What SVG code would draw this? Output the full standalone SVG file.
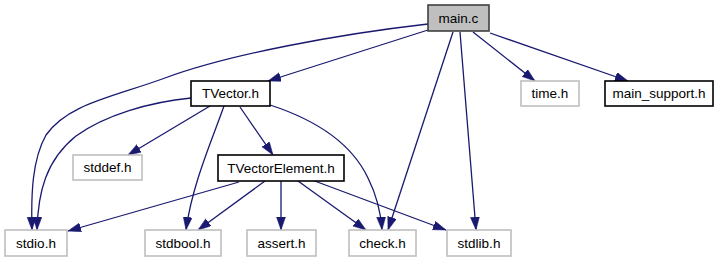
<svg xmlns="http://www.w3.org/2000/svg" width="721" height="261" viewBox="0 0 721 261">
  <style>
    .box { fill: #ffffff; stroke: #000000; stroke-width: 1.6; }
    .root { fill: #bfbfbf; stroke: #404040; stroke-width: 1.6; }
    .ext { fill: #ffffff; stroke: #bfbfbf; stroke-width: 1.6; }
    .lbl { font-family: "Liberation Sans", Arial, sans-serif; font-size: 13.5px; fill: #000000; text-anchor: middle; }
    .edge { fill: none; stroke: #191970; stroke-width: 1.3; marker-end: url(#arrow); }
  </style>
  <defs>
    <marker id="arrow" markerUnits="userSpaceOnUse" markerWidth="13" markerHeight="10" refX="13" refY="4.5" orient="auto">
      <path d="M0,0 L13,4.5 L0,9 z" fill="#191970" stroke="#191970" stroke-width="0.5"/>
    </marker>
  </defs>

  <rect width="721" height="261" fill="#ffffff"/>

  <!-- include edges -->
  <g id="edges">
    <path class="edge" d="M428,24 C340,34 230,54 165,78 C110,98 68,104 46,135 C32,160 31,195 32,230"/>
    <path class="edge" d="M428,30 L268,81"/>
    <path class="edge" d="M453,32 L388,230"/>
    <path class="edge" d="M460,32 L476,230"/>
    <path class="edge" d="M473,32 L535,81"/>
    <path class="edge" d="M490,33 L628,81"/>
    <path class="edge" d="M191,98 C150,102 105,115 76,136 C46,160 38,192 37,230"/>
    <path class="edge" d="M210,106 L128,155"/>
    <path class="edge" d="M224,106 C212,140 192,185 186,230"/>
    <path class="edge" d="M240,107 L273,155"/>
    <path class="edge" d="M270,105 C310,118 350,140 368,178 C378,198 381,215 382,230"/>
    <path class="edge" d="M239,182 L68,231"/>
    <path class="edge" d="M265,181 L198,230"/>
    <path class="edge" d="M281,181 L281,230"/>
    <path class="edge" d="M298,181 L366,230"/>
    <path class="edge" d="M312,180 L446,230"/>
  </g>

  <!-- file nodes -->
  <g id="main_c">
    <rect class="root" x="428" y="5" width="61" height="26"/>
    <text class="lbl" x="458.5" y="22.5">main.c</text>
  </g>
  <g id="tvector_h">
    <rect class="box" x="191" y="81" width="79" height="25"/>
    <text class="lbl" x="230.5" y="98">TVector.h</text>
  </g>
  <g id="time_h">
    <rect class="ext" x="521" y="81" width="58" height="25"/>
    <text class="lbl" x="550" y="98">time.h</text>
  </g>
  <g id="main_support_h">
    <rect class="box" x="605" y="81" width="108" height="25"/>
    <text class="lbl" x="659" y="98">main_support.h</text>
  </g>
  <g id="stddef_h">
    <rect class="ext" x="73" y="155" width="69" height="25"/>
    <text class="lbl" x="107.5" y="172">stddef.h</text>
  </g>
  <g id="tvectorelement_h">
    <rect class="box" x="218" y="155" width="126" height="26"/>
    <text class="lbl" x="281" y="172.5">TVectorElement.h</text>
  </g>
  <g id="stdio_h">
    <rect class="ext" x="5" y="230" width="62" height="26"/>
    <text class="lbl" x="36" y="247.5">stdio.h</text>
  </g>
  <g id="stdbool_h">
    <rect class="ext" x="145" y="230" width="76" height="26"/>
    <text class="lbl" x="183" y="247.5">stdbool.h</text>
  </g>
  <g id="assert_h">
    <rect class="ext" x="247" y="230" width="69" height="26"/>
    <text class="lbl" x="281.5" y="247.5">assert.h</text>
  </g>
  <g id="check_h">
    <rect class="ext" x="349" y="230" width="67" height="26"/>
    <text class="lbl" x="382.5" y="247.5">check.h</text>
  </g>
  <g id="stdlib_h">
    <rect class="ext" x="447" y="230" width="64" height="26"/>
    <text class="lbl" x="479" y="247.5">stdlib.h</text>
  </g>
</svg>
